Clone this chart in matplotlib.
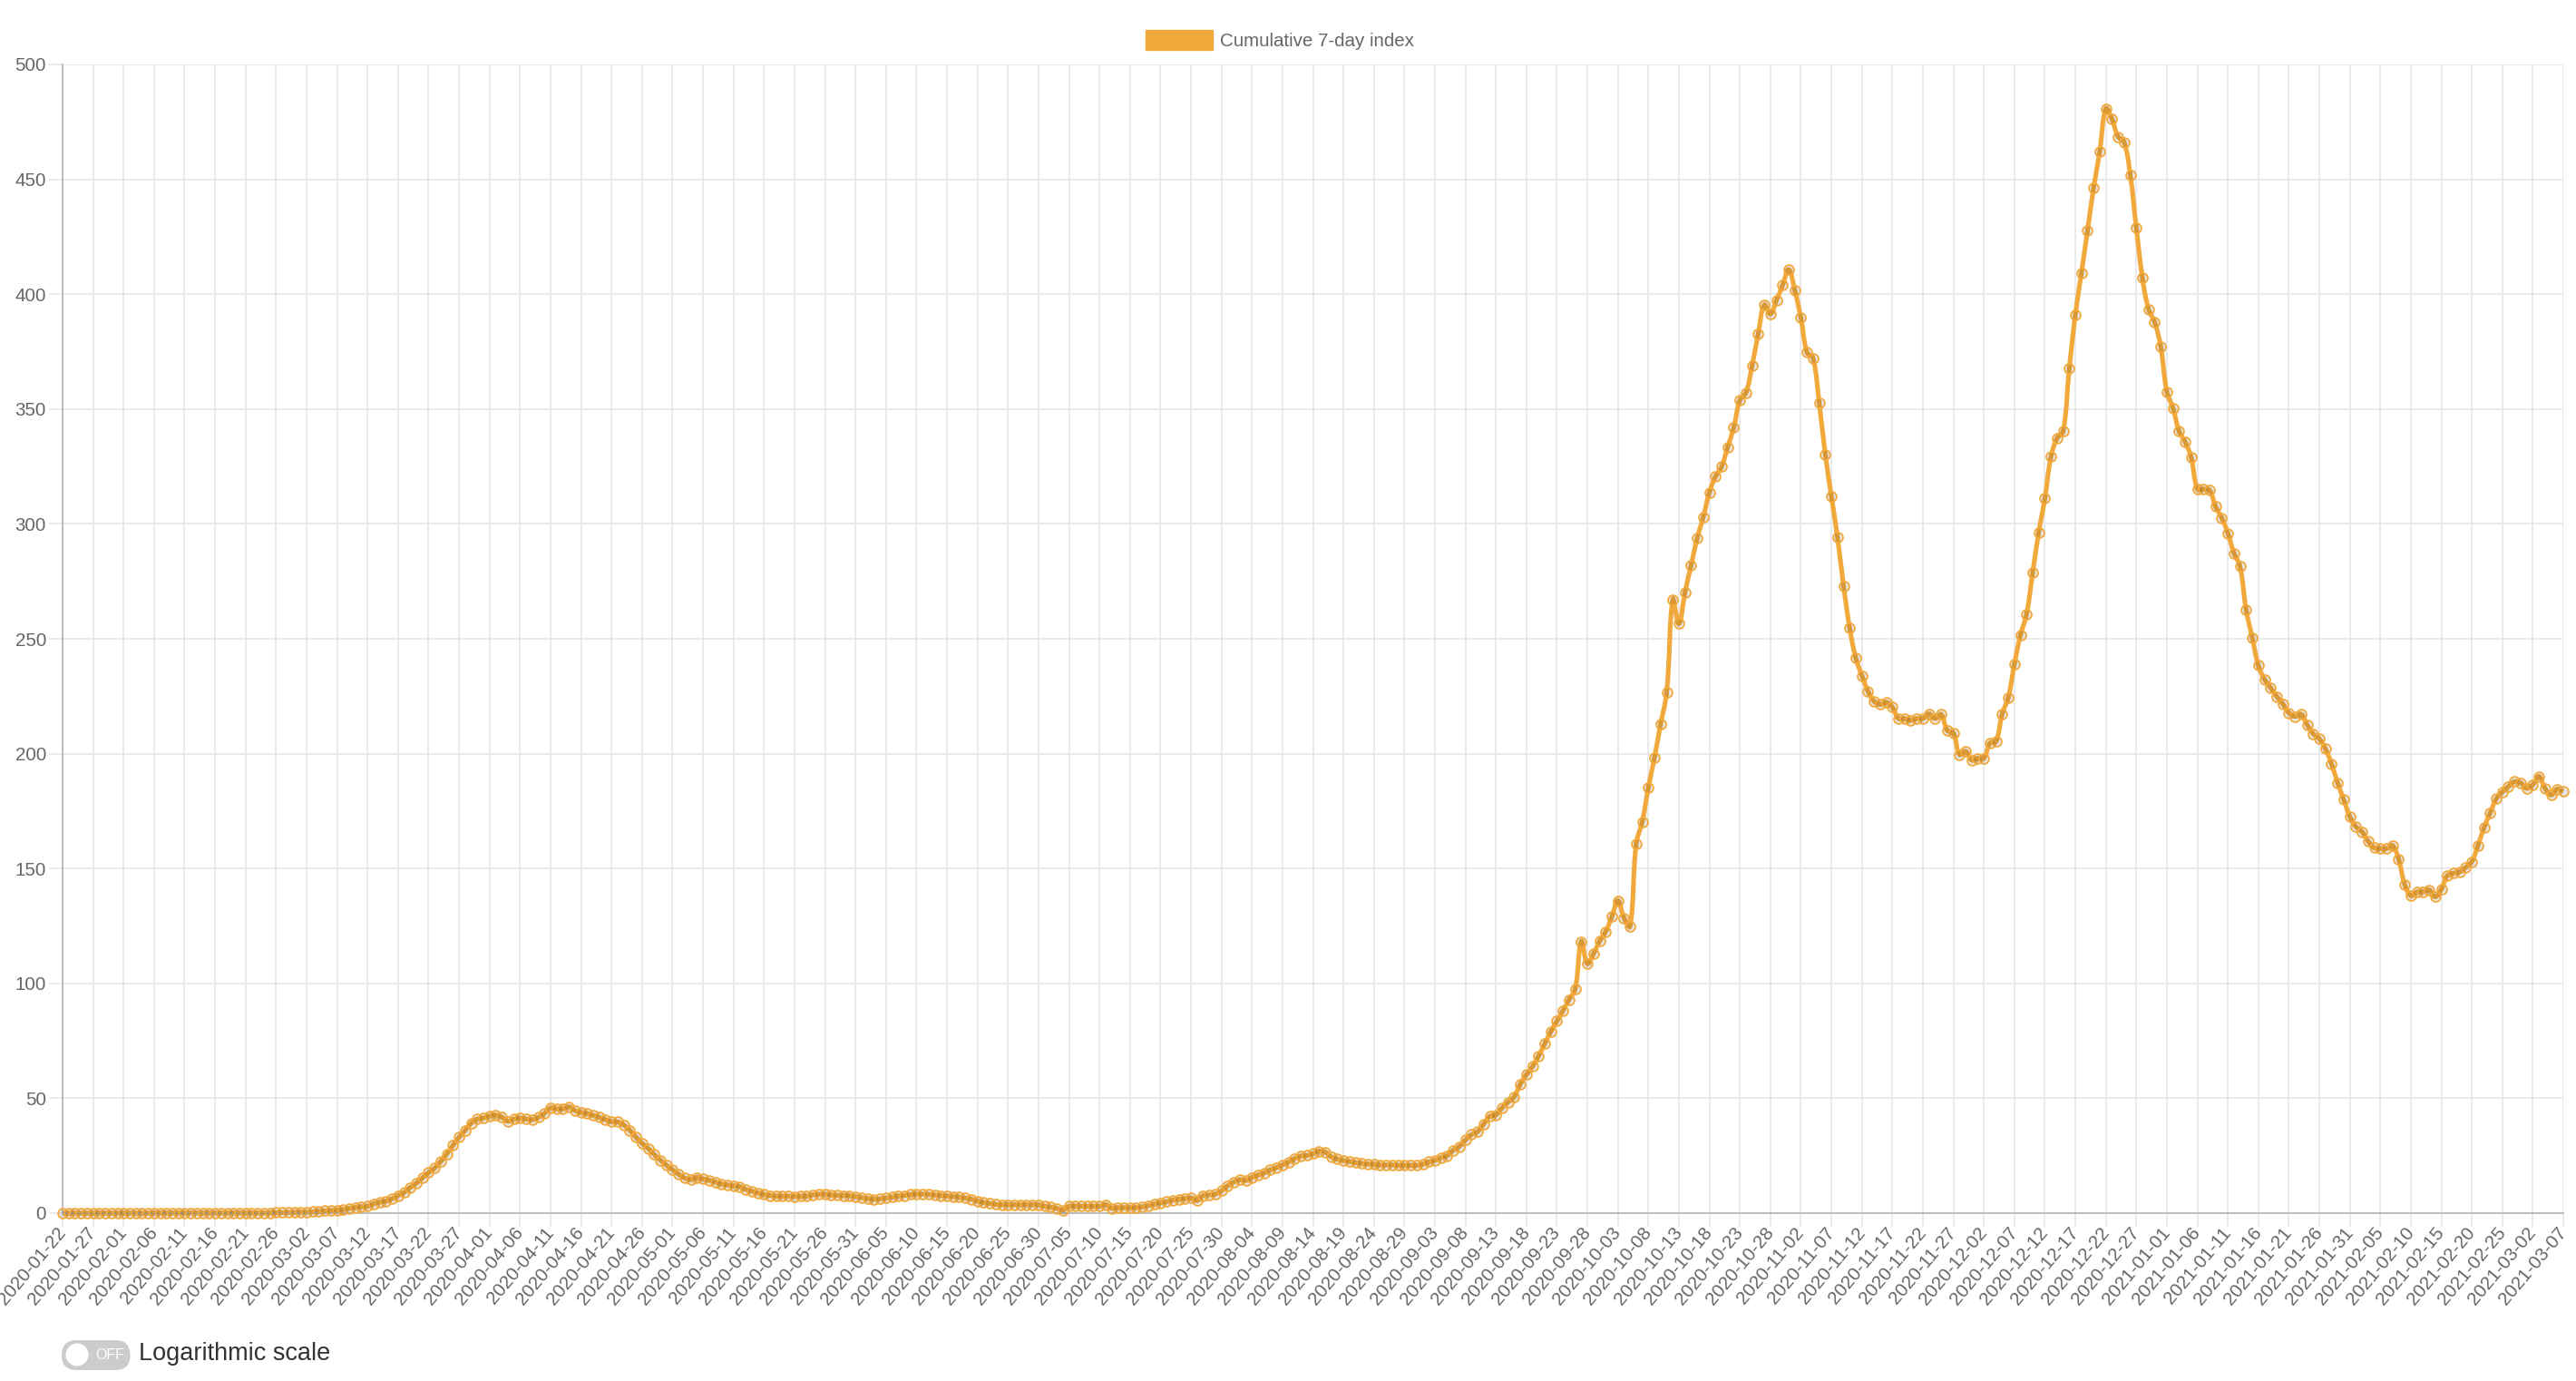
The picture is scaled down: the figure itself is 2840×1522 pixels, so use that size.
import matplotlib

matplotlib.use("Agg")
import matplotlib.pyplot as plt
import numpy as np
import pandas as pd
from matplotlib.patches import Circle, FancyBboxPatch, Patch, PathPatch
from matplotlib.path import Path

START_DATE = "2020-01-22"
TICK_STEP = 5
SERIES_LABEL = "Cumulative 7-day index"
TOGGLE_LABEL = "Logarithmic scale"
TOGGLE_STATE = "OFF"
Y_TICKS = [0, 50, 100, 150, 200, 250, 300, 350, 400, 450, 500]

# one value per day
index_values = [
    0.0, 0.0, 0.0, 0.0, 0.0, 0.0, 0.0, 0.0, 0.0, 0.0,
    0.0, 0.0, 0.0, 0.0, 0.0, 0.1, 0.1, 0.1, 0.1, 0.1,
    0.1, 0.1, 0.1, 0.1, 0.1, 0.1, 0.1, 0.1, 0.1, 0.1,
    0.1, 0.1, 0.1, 0.1, 0.1, 0.2, 0.2, 0.3, 0.3, 0.4,
    0.4, 0.6, 0.8, 1.0, 1.2, 1.3, 1.6, 2.1, 2.5, 2.8,
    3.0, 4.1, 4.8, 5.3, 6.3, 7.7, 9.0, 11.2, 13.0, 15.3,
    17.6, 19.6, 22.5, 25.8, 29.5, 33.0, 36.0, 39.2, 41.0, 41.4,
    42.3, 42.7, 41.8, 40.0, 41.0, 41.4, 41.0, 40.7, 41.7, 43.4,
    45.8, 45.4, 45.4, 46.3, 44.7, 43.8, 43.4, 42.5, 41.7, 40.7,
    39.8, 39.7, 38.4, 36.1, 33.1, 30.4, 28.2, 25.5, 23.1, 20.9,
    18.9, 16.9, 15.3, 14.6, 15.6, 14.9, 14.3, 13.6, 12.7, 12.3,
    11.9, 11.6, 10.3, 9.6, 8.8, 8.1, 7.7, 7.4, 7.4, 7.4,
    7.3, 7.4, 7.4, 8.0, 8.2, 8.3, 7.9, 7.8, 7.7, 7.7,
    7.2, 6.8, 6.3, 6.1, 6.2, 6.6, 7.0, 7.5, 7.7, 8.1,
    8.3, 8.3, 8.2, 7.9, 7.7, 7.5, 7.3, 7.0, 6.6, 6.1,
    5.3, 4.6, 4.2, 3.8, 3.7, 3.7, 3.7, 3.7, 3.7, 3.7,
    3.7, 3.0, 2.6, 2.1, 1.3, 3.0, 3.0, 3.0, 3.0, 3.0,
    3.0, 3.7, 2.1, 2.4, 2.4, 2.4, 2.4, 2.8, 3.3, 4.0,
    4.5, 5.0, 5.7, 6.1, 6.3, 6.6, 5.5, 7.7, 8.0, 8.3,
    9.7, 11.9, 13.5, 14.6, 14.2, 15.6, 16.6, 17.5, 18.9, 19.8,
    21.0, 22.2, 23.8, 24.9, 25.1, 25.9, 27.0, 26.6, 24.5, 23.5,
    22.9, 22.5, 22.0, 21.6, 21.4, 21.3, 21.0, 21.0, 21.0, 20.8,
    20.8, 20.8, 20.8, 21.3, 22.4, 23.0, 24.2, 25.0, 27.4, 29.0,
    31.8, 34.2, 35.5, 38.8, 42.1, 42.8, 45.8, 48.3, 50.7, 56.2,
    60.3, 63.8, 68.4, 73.7, 79.0, 83.6, 88.2, 93.0, 97.6, 118.2,
    108.6, 112.9, 118.4, 122.6, 129.0, 136.0, 128.5, 124.9, 160.7, 170.4,
    185.4, 198.3, 212.9, 226.8, 266.9, 256.6, 270.2, 282.0, 293.8, 303.0,
    313.7, 320.6, 324.9, 333.5, 342.0, 353.9, 357.1, 368.9, 382.8, 395.3,
    391.4, 397.4, 403.9, 410.7, 401.7, 389.7, 374.7, 372.1, 352.8, 330.3,
    312.0, 294.2, 273.0, 254.7, 241.6, 234.0, 227.2, 222.8, 221.4, 222.4,
    220.2, 215.3, 215.3, 214.5, 215.3, 215.3, 217.3, 215.3, 217.1, 210.1,
    209.1, 199.6, 201.0, 197.2, 198.0, 198.0, 204.6, 205.3, 217.3, 224.4,
    238.9, 251.6, 260.7, 278.8, 296.4, 311.1, 329.2, 337.3, 340.3, 367.5,
    391.1, 409.3, 427.8, 446.4, 462.1, 480.7, 476.2, 468.6, 466.2, 452.0,
    428.8, 407.0, 393.5, 387.8, 377.1, 357.5, 350.5, 340.4, 335.7, 328.9,
    315.1, 315.1, 314.7, 307.5, 302.6, 296.0, 287.3, 281.4, 262.6, 250.5,
    238.4, 232.4, 228.7, 224.9, 221.7, 217.8, 216.2, 217.2, 212.6, 208.7,
    206.5, 202.1, 195.5, 187.3, 180.0, 172.6, 168.2, 166.0, 161.9, 159.0,
    158.7, 158.7, 160.0, 154.1, 143.1, 138.2, 139.8, 139.8, 140.7, 137.7,
    141.0, 146.9, 148.0, 148.5, 150.5, 153.0, 160.0, 167.7, 174.2, 180.3,
    183.3, 185.7, 187.8, 187.3, 184.9, 186.5, 190.1, 184.9, 182.0, 184.6,
    183.6,
]

ORANGE = "#f2a93b"
GRID = "#e6e6e6"
AXIS = "#b3b3b3"
TEXT = "#666666"

W, H = 2840, 1522


def chartjs_control_points(pts, tension=0.4):
    # same spline as Chart.js 2 (splineCurve), computed in pixel space
    n = len(pts)
    cp_prev = np.zeros_like(pts)
    cp_next = np.zeros_like(pts)
    for i in range(n):
        p = pts[max(i - 1, 0)]
        c = pts[i]
        nx = pts[min(i + 1, n - 1)]
        d01 = np.hypot(*(c - p))
        d12 = np.hypot(*(nx - c))
        tot = d01 + d12
        s01 = d01 / tot if tot else 0.0
        s12 = d12 / tot if tot else 0.0
        cp_prev[i] = c - tension * s01 * (nx - p)
        cp_next[i] = c + tension * s12 * (nx - p)
    return cp_prev, cp_next


def main():
    values = np.array(index_values)
    days = np.arange(len(values))
    dates = pd.date_range(START_DATE, periods=len(values), freq="D")
    tick_pos = days[::TICK_STEP]
    tick_labels = [d.strftime("%Y-%m-%d") for d in dates[::TICK_STEP]]

    plt.rcParams["font.family"] = ["Liberation Sans", "DejaVu Sans"]

    fig, ax = plt.subplots(figsize=(W / 100, H / 100), dpi=100)
    fig.subplots_adjust(left=69 / W, right=2826 / W, bottom=1 - 1337 / H, top=1 - 71 / H)

    ax.set_xlim(0, len(values) - 1)
    ax.set_ylim(0, 500)
    ax.set_yticks(Y_TICKS)
    ax.set_xticks(tick_pos)
    ax.set_xticklabels(tick_labels, rotation=50, ha="right", va="center",
                       rotation_mode="anchor")

    ax.grid(True, color=GRID, linewidth=1.2)
    ax.set_axisbelow(True)
    for side in ("top", "right"):
        ax.spines[side].set_visible(False)
    for side in ("left", "bottom"):
        ax.spines[side].set_color(AXIS)
        ax.spines[side].set_linewidth(1.2)
    ax.tick_params(axis="both", length=11, width=1.2, color=GRID,
                   labelsize=14.8, labelcolor=TEXT, pad=2)

    # bezier line like Chart.js (tension 0.4)
    pts = ax.transData.transform(np.column_stack([days, values]))
    cp_prev, cp_next = chartjs_control_points(pts)
    x0, y0, x1, y1 = ax.bbox.extents
    for cp in (cp_prev, cp_next):
        cp[:, 0] = np.clip(cp[:, 0], x0, x1)
        cp[:, 1] = np.clip(cp[:, 1], y0, y1)
    verts = [pts[0]]
    codes = [Path.MOVETO]
    for i in range(1, len(pts)):
        verts += [cp_next[i - 1], cp_prev[i], pts[i]]
        codes += [Path.CURVE4] * 3
    verts = ax.transData.inverted().transform(np.array(verts))
    line = PathPatch(Path(verts, codes), fill=False, edgecolor=ORANGE, linewidth=3.7,
                     joinstyle="miter", capstyle="butt", clip_on=False, zorder=2)
    ax.add_patch(line)

    ax.plot(days, values, linestyle="none", marker="o", markersize=7.8,
            markerfacecolor=(0, 0, 0, 0.1), markeredgecolor=ORANGE,
            markeredgewidth=1.3, clip_on=False, zorder=3)

    fig.legend(handles=[Patch(facecolor=ORANGE, edgecolor=ORANGE, label=SERIES_LABEL)],
               loc="center", bbox_to_anchor=(1411 / W, 1 - 44 / H), frameon=False,
               fontsize=14.8, handlelength=3.6, handleheight=1.27, handletextpad=0.4,
               borderpad=0, labelcolor=TEXT)

    # the log scale toggle under the chart
    ui = fig.add_axes([0, 0, 1, 1], facecolor="none")
    ui.set_xlim(0, W)
    ui.set_ylim(H, 0)
    ui.axis("off")
    ui.add_patch(FancyBboxPatch((68, 1477), 75.5, 33, boxstyle="round,pad=0,rounding_size=16.5",
                                facecolor="#cccccc", edgecolor="none"))
    ui.add_patch(Circle((85, 1493), 12.5, facecolor="white", edgecolor="none"))
    ui.text(121.5, 1493.5, TOGGLE_STATE, color="white", fontsize=11.5, ha="center", va="center")
    ui.text(153, 1492, TOGGLE_LABEL, color="#333333", fontsize=19.5, ha="left", va="center")

    fig.savefig("out.png", dpi=100)
    plt.close(fig)


if __name__ == "__main__":
    main()
